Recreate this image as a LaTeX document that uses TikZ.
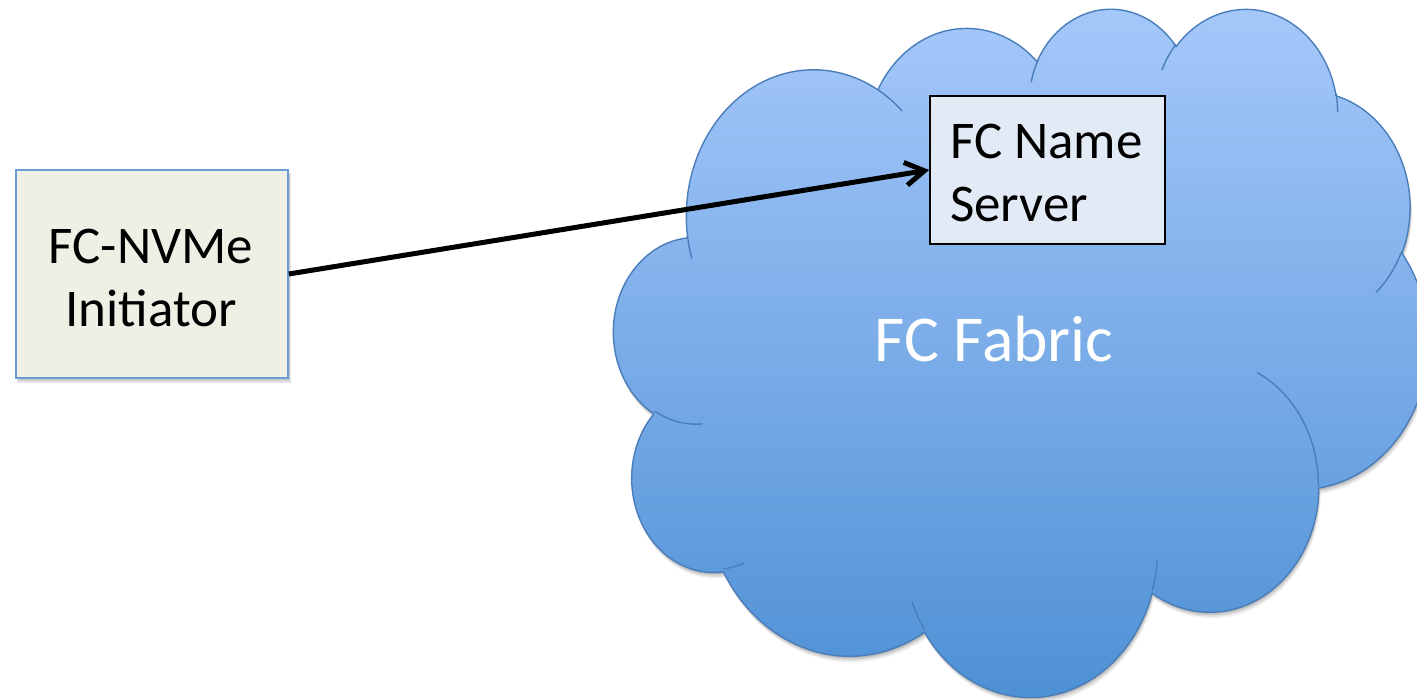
\documentclass[tikz,border=0pt]{standalone}
\usepackage{fontspec}
\setmainfont{Carlito}
\usetikzlibrary{arrows.meta}

\definecolor{cloudtop}{RGB}{167,201,251}
\definecolor{cloudbottom}{RGB}{76,143,212}
\definecolor{cloudline}{RGB}{74,126,187}
\definecolor{initfill}{RGB}{238,240,229}
\definecolor{initline}{RGB}{108,155,210}
\definecolor{nsfill}{RGB}{226,234,245}

% Turn an arc given by radii, visual start angle and sweep into the
% parametric start angle and sweep that TikZ's arc operation expects.
% #1 tag, #2 x radius, #3 y radius, #4 start angle, #5 sweep
\newcommand\ooarc[5]{%
  \pgfmathsetmacro\ooa{atan2((#2)*sin(#4),(#3)*cos(#4))}%
  \pgfmathsetmacro\oob{atan2((#2)*sin((#4)+(#5)),(#3)*cos((#4)+(#5)))}%
  \pgfmathsetmacro\ood{\oob-\ooa}%
  \pgfmathsetmacro\ood{\ood<0 ? \ood+360 : \ood}%
  \expandafter\let\csname ooS#1\endcsname\ooa
  \expandafter\let\csname ooD#1\endcsname\ood
}

% outline of the cloud
\ooarc{A}{675.3}{919.0}{-190.48748}{123.78053}
\ooarc{B}{533.3}{726.7}{-144.10238}{89.94523}
\ooarc{C}{436.5}{594.5}{-145.80792}{99.72302}
\ooarc{D}{485.7}{659.5}{-130.98607}{117.24173}
\ooarc{E}{533.3}{727.3}{-78.70888}{109.02692}
\ooarc{F}{677.5}{922.0}{-46.26725}{130.26900}
\ooarc{G}{578.5}{786.7}{0.62502}{114.03333}
\ooarc{H}{675.2}{921.5}{22.45160}{115.17255}
\ooarc{I}{772.0}{1054.3}{66.24263}{75.71102}
\ooarc{J}{436.0}{591.8}{-274.94208}{146.73557}
\ooarc{K}{434.5}{594.5}{-246.82850}{152.51885}
% short inner strokes where the puffs overlap
\ooarc{a}{434.5}{594.5}{86.74200}{26.42950}
\ooarc{b}{436.0}{591.8}{73.61047}{11.44747}
\ooarc{c}{675.2}{921.5}{137.62415}{14.08110}
\ooarc{d}{675.2}{921.5}{6.45327}{15.99835}
\ooarc{e}{578.5}{786.7}{-70.29235}{70.91737}
\ooarc{f}{533.3}{727.3}{30.31804}{26.50000}
\ooarc{g}{485.7}{659.5}{-13.74128}{13.74128}
\ooarc{h}{485.7}{659.5}{-149.17292}{18.18980}
\ooarc{i}{436.5}{594.5}{-163.49427}{17.69183}
\ooarc{j}{675.3}{919.0}{-66.70695}{12.31935}
\ooarc{k}{675.3}{919.0}{157.65435}{11.85817}

\newcommand\cloudpath{(390,1437)
  arc[start angle=\ooSA,delta angle=\ooDA,x radius=675.3,y radius=919.0]
  arc[start angle=\ooSB,delta angle=\ooDB,x radius=533.3,y radius=726.7]
  arc[start angle=\ooSC,delta angle=\ooDC,x radius=436.5,y radius=594.5]
  arc[start angle=\ooSD,delta angle=\ooDD,x radius=485.7,y radius=659.5]
  arc[start angle=\ooSE,delta angle=\ooDE,x radius=533.3,y radius=727.3]
  arc[start angle=\ooSF,delta angle=\ooDF,x radius=677.5,y radius=922.0]
  arc[start angle=\ooSG,delta angle=\ooDG,x radius=578.5,y radius=786.7]
  arc[start angle=\ooSH,delta angle=\ooDH,x radius=675.2,y radius=921.5]
  arc[start angle=\ooSI,delta angle=\ooDI,x radius=772.0,y radius=1054.3]
  arc[start angle=\ooSJ,delta angle=\ooDJ,x radius=436.0,y radius=591.8]
  arc[start angle=\ooSK,delta angle=\ooDK,x radius=434.5,y radius=594.5]
  -- cycle}

\begin{document}
\begin{tikzpicture}[x=1pt,y=-1pt,
  cloudframe/.style={shift={(614,7)},xscale=0.188426,yscale=0.159259},
  cloudedge/.style={draw=cloudline,line width=1.4pt},
  initbox/.style={draw=initline,line width=1.6pt,fill=initfill,
    minimum width=272pt,minimum height=208pt,inner sep=0pt},
  nsbox/.style={draw=black,line width=1.8pt,fill=nsfill,
    minimum width=235pt,minimum height=148pt,inner sep=0pt},
  boxtext/.style={font=\fontsize{53}{63}\selectfont,inner sep=0pt},
  fabrictext/.style={font=\fontsize{65.5}{78}\selectfont,text=white,inner sep=0pt},
  link/.style={line width=5pt,-{Straight Barb[length=19pt,width=23pt]}},
]
\useasboundingbox (0,0) rectangle (1417,700);
\fill[white] (0,0) rectangle (1417,700);

% soft shadow under the cloud
\foreach \dx/\dy/\op in {0.5/1.5/0.10,1/3/0.09,1.5/4.5/0.07,2/6/0.05}{
  \begin{scope}[shift={(\dx,\dy)}]
    \begin{scope}[cloudframe]
      \fill[black,opacity=\op] \cloudpath;
    \end{scope}
  \end{scope}
}

% the cloud itself
\begin{scope}[cloudframe]
  \path[cloudedge,top color=cloudtop,bottom color=cloudbottom] \cloudpath;
  \draw[cloudedge] (469.3,2617.7) arc[start angle=\ooSa,delta angle=\ooDa,x radius=434.5,y radius=594.5];
  \draw[cloudedge] (692.8,3489.9) arc[start angle=\ooSb,delta angle=\ooDb,x radius=436.0,y radius=591.8];
  \draw[cloudedge] (1647.8,3909.0) arc[start angle=\ooSc,delta angle=\ooDc,x radius=675.2,y radius=921.5];
  \draw[cloudedge] (2882.7,3475.1) arc[start angle=\ooSd,delta angle=\ooDd,x radius=675.2,y radius=921.5];
  \draw[cloudedge] (3412.9,2295.4) arc[start angle=\ooSe,delta angle=\ooDe,x radius=578.5,y radius=786.7];
  \draw[cloudedge] (4179.8,1535.4) arc[start angle=\ooSf,delta angle=\ooDf,x radius=533.3,y radius=727.3];
  \draw[cloudedge] (3832.4,542.6) arc[start angle=\ooSg,delta angle=\ooDg,x radius=485.7,y radius=659.5];
  \draw[cloudedge] (2907.8,395.2) arc[start angle=\ooSh,delta angle=\ooDh,x radius=485.7,y radius=659.5];
  \draw[cloudedge] (2214.1,472.0) arc[start angle=\ooSi,delta angle=\ooDi,x radius=436.5,y radius=594.5];
  \draw[cloudedge] (1400.0,519.2) arc[start angle=\ooSj,delta angle=\ooDj,x radius=675.3,y radius=919.0];
  \draw[cloudedge] (412.7,1578.9) arc[start angle=\ooSk,delta angle=\ooDk,x radius=675.3,y radius=919.0];
\end{scope}

\node[fabrictext,anchor=base] (fabric) at (994,361.7) {FC Fabric};

% initiator box with its shadow
\fill[black,opacity=0.10] (17,173) rectangle (291,383);
\fill[black,opacity=0.10] (18,174) rectangle (290,381);
\node[initbox] (init) at (152,274) {};
\node[boxtext,align=center] (initlabel) at (151,278.2) {FC-NVMe\\Initiator};

% name server box
\node[nsbox] (ns) at (1047.5,170) {};
\node[boxtext,align=left,anchor=west] (nslabel) at (950,172.5) {FC Name\\Server};

\draw[link] (init.east) -- (ns.west);
\end{tikzpicture}
\end{document}
